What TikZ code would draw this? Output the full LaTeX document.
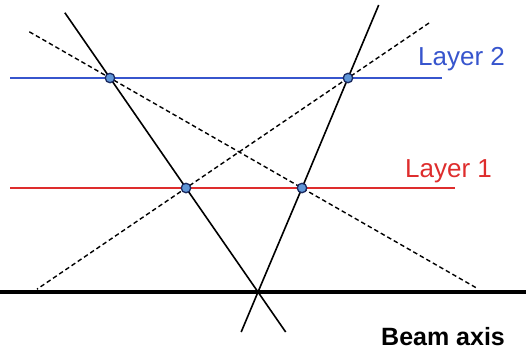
\documentclass[tikz,border=0pt]{standalone}
\usepackage{fontspec}
\setmainfont{Liberation Sans}
\usetikzlibrary{calc}
\definecolor{layblue}{RGB}{55,85,205}
\definecolor{layred}{RGB}{222,45,45}
\definecolor{hitfill}{RGB}{95,150,215}
\definecolor{hitline}{RGB}{25,40,95}
\tikzset{hit/.style={circle,draw=hitline,fill=hitfill,line width=1.3pt,inner sep=0pt,minimum size=9.5pt},
 track/.style={line width=1.6pt},
 fake/.style={line width=1.4pt,dash pattern=on 4.5pt off 3pt},
 lbl/.style={font=\fontsize{26}{30}\selectfont,anchor=base west,inner sep=0pt}}

\begin{document}
\begin{tikzpicture}[x=1pt,y=-1pt]
 \useasboundingbox (0,0) rectangle (526,351);
 % hits and vertex
 \coordinate (vtx) at (258,292);
 \coordinate (h2a) at (110,78);  \coordinate (h2b) at (348,78);
 \coordinate (h1a) at (186,188); \coordinate (h1b) at (302,188);

 % layers and beam axis
 \draw [layblue, line width=1.8pt] (10,78) coordinate (l2w) -- (442,78) coordinate (l2e);
 \draw [layred, line width=1.8pt] (10,188) coordinate (l1w) -- (455,188) coordinate (l1e);
 \draw [line width=3.2pt] (0,292) coordinate (bw) -- (526,292) coordinate (be);

 % true tracks
 \draw [track] ($(vtx)!1.305!(h2a)$) -- (h2a) -- (h1a) -- (vtx) -- ($(vtx)!-0.187!(h2a)$);
 \draw [track] ($(vtx)!1.341!(h2b)$) -- (h2b) -- (h1b) -- (vtx) -- ($(vtx)!-0.187!(h2b)$);

 % fake tracks
 \draw [fake] ($(h2a)!-0.42!(h1b)$) -- (h2a) -- (h1b) -- ($(h2a)!1.91!(h1b)$);
 \draw [fake] ($(h2b)!-0.5!(h1a)$) -- (h2b) -- (h1a) -- ($(h2b)!1.92!(h1a)$);

 \foreach \h in {h2a,h2b,h1a,h1b}
  \node [hit] (c\h) at (\h) {};

 \node [lbl, text=layblue] (lay2) at (418,65) {Layer 2};
 \node [lbl, text=layred] (lay1) at (405,177) {Layer 1};
 \node [lbl, font=\fontsize{25}{30}\selectfont\bfseries] (beam) at (381,345) {Beam axis};
\end{tikzpicture}
\end{document}
